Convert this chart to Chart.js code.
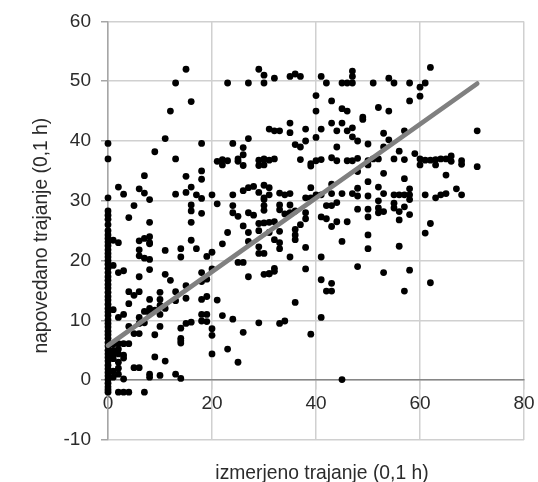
<!DOCTYPE html>
<html><head><meta charset="utf-8">
<style>html,body{margin:0;padding:0;background:#fff}#w{position:relative;width:538px;height:482px}</style>
<script src="https://cdn.jsdelivr.net/npm/chart.js@4"></script></head>
<body><div id="w"><canvas id="c" width="538" height="482"></canvas></div>
<script>
const xLabel = "izmerjeno trajanje (0,1 h)";
const yLabel = "napovedano trajanje (0,1 h)";
const xTicks = [0,20,40,60,80];
const yTicks = [-10,0,10,20,30,40,50,60];
const trendX = [0,71];
const trendY = [5.8,49.6];
const column0 = [39.6,37,30.5,28.3,27.6,26.9,26,25,24.3,23.7,23.1,22.5,21.8,21.2,20.6,20,19.4,18.7,18,17.3,16.7,16,15.4,14.7,14,13.4,12.7,12,11.4,10.8,10.1,9.5,8.9,8.2,7.6,7,6.3,5.7,5,4.4,3.8,3.2,2.5,1.9,1.3,0.7,0.1,-0.5,-1.1,-1.6,-2];
const pointsA = [
[1,23.4],[2,23],[1,19.2],[2,18],[3,18.3],[1,11.8],[3,11],[2,10.5],[1,6],[2,6.1],[3,6.1],[4,6.1],[1,5],[2,5.2],[1,4.3],[2,4.4],[3,4.2],[1,3.6],[3,3.7],[2,3],[2,2],[1,1.5],[1,0.5],[2,1],[3,0.2],[2,-2],[3,-2],[4,-2],[7,-2],
[4,27.2],[5,29.2],[8,30.2],[8,26.4],[16,29.3],[16,28.3],[16,26.4],[18,27.9],[21,29.5],[24,29.2],[24,28],[25,27.4],[27,28],[28,27.6],[26,25.8],[23,24.7],[27,24.7],[30,26.3],[31,26.4],[31,24.7],[27,23.2],[29,22.3],[22,22.8],[16,23.4],[6,23.3],[7,23.7],[8,24],[8,23],[8,22.8],[6,21.8],[6,20.8],[7,20.4],[8,20.2],[11,21.7],[14,22],[14,20.6],[17,22],[19,20.7],[20,21.4],[30,21.2],[25,19.7],[26,19.7],[8,18.5],[11,17.7],[6,17.3],[12,16.7],[18,18],[20,18.6],[19,16.9],[18,16.5],[27,17.3],[30,17.7],[31,17.8],[15,15.8],[13,14.8],[4,14.8],[6,14.8],[5,14.2],[10,14.7],[4,12.8],[8,13.5],[10,13.5],[10,12.5],[13,13.3],[15,13.7],[18,13.5],[19,14],[21,13.4],[6,10.5],[7,11.5],[8,12],[8,11.2],[9,11.7],[10,11],[11,12],[18,11],[19,11],[19,9.8],[18,9.9],[22,10.8],[24,10.2],[6,9.5],[7,9.6],[4,9],[10,9],[14,8.7],[15,9.5],[16,9.7],[29,9.6],[20,8.6],[20,7.5],[26,8],[5,7.8],[6,7.8],[9,7.6],[14,7],[14,6.6],[14,6.2],[23,5.2],[20,4.4],[9,3.9],[11,3.2],[25,3],[5,2.1],[6,2.1],[8,1],[8,0.5],[10,0.8],[13,1],[14,0.3],
[15,52],[13,49.7],[23,49.7],[27,49.7],[30,49.7],[29,52],[30,51],[16,46.6],[12,45],[11,40.4],[18,39.6],[24,39.6],[26,38.9],[27,40.4],[31,42],[9,38.2],[13,37],[26,37.7],[25,37],[25,36.6],[21,36.6],[22,36.9],[22,36],[23,36.7],[26,35.9],[29,36.8],[29,35.9],[30,37],[30,36],[31,36.8],[18,35],[7,34.2],[15,34.1],[18,33.6],[2,32.3],[3,31.1],[6,32],[7,31.3],[13,31.1],[15,31.4],[16,32.3],[17,31],[18,30.4],[20,31],[24,31],[26,31.7],[27,32.2],[28,32.4],[30,32.6],[31,32.2],[30,30.5],[30,30.2]
];
const pointsB = [
[32,50.5],[35,50.8],[36,51.2],[37,50.8],[41,50.8],[42,49.7],[45,49.7],[46,49.7],[47,49.7],[47,50.8],[47,51.7],[51,49.7],[54,50.5],[55,49.7],[58,49.7],[60,49],[61,49.7],[62,52.3],[60,47.5],[58,46.7],[40,47.6],[43,46.7],[45,45.4],[46,45],[40,45],[49,44],[49,43.6],[52,45.6],[54,45],[35,43],[38,42],[41,42],[43,43],[45,43],[44,41.7],[46,41.7],[47,42.2],[47,40.7],[48,40],[32,41.7],[33,41.7],[35,41.4],[40,40.6],[38,40],[36,39.4],[37,39],[44,39],[50,39.5],[53,41.3],[54,40.2],[53,39],[57,41.7],[56,38.3],[71,41.7],[71,35.7],
[32,37],[37,36.9],[39,36.2],[39,35.8],[40,36.7],[41,36.9],[43,37.2],[44,36.7],[46,36.7],[47,36.7],[48,37.1],[50,36.7],[50,36],[51,37],[52,37],[55,37],[57,36.9],[59,37.9],[60,37],[60,36],[61,36.8],[62,36.8],[63,36.9],[64,37],[65,37],[63,36],[66,37.5],[66,36.6],[68,36.7],[68,36.1],
[48,34.9],[53,34.6],[57,33.7],[65,34.3],[43,32.8],[39,32.2],[48,32.1],[50,33.2],[52,32.3],[58,32],[67,32],[29,31.4],[31,31],[33,31.3],[34,31],[35,31.2],[38,30.5],[39,30.5],[40,31],[41,31],[43,31.2],[45,31.2],[47,31.2],[48,30.8],[50,30.8],[53,31.2],[55,31],[56,31],[57,31],[58,31],[52,30],[58,30.2],[61,31],[63,30.5],[64,31],[65,31.2],[68,31],[55,29.6],[55,28.8],[57,29],[52,28.8],[44,29.7],[43,29.2],[30,29.2],[30,28.4],[33,28.5],[34,27.8],[35,28],[36,28.3],
[42,29.2],[33,29.3],[35,29.3],[38,28],[38,27],[41,27.3],[42,27],[48,28.6],[50,28.6],[50,27.3],[52,28],[53,28.2],[56,28.2],[58,27.7],[56,26.8],[44,26.5],[43,25.7],[46,26.5],[37,26],[62,26.2],[61,24.6],[29,26.2],[32,26.5],[29,25],[33,24.9],[36,25.2],[36,24.3],[36,23.5],[50,24.3],[45,23.2],[32,23.5],[33,23],[33,22],[38,22.2],[56,22.4],[50,22],[29,21.2],[35,20.6],[41,20.6],[48,19],[38,18.6],[32,18.7],[32,18.2],[31,17.8],[53,18],[58,18.4],[41,16.8],[43,16.2],[62,16.3],[42,14.9],[43,14.9],[57,14.9],[36,13],[41,10.5],[34,9.9],[33,9.5],[39,7.7],[45,0.1]
];
const scatter = column0.map(v=>({x:0,y:v})).concat(pointsA.concat(pointsB).map(p=>({x:p[0],y:p[1]})));
const font = {family:"'Liberation Sans', Arial, sans-serif", size:19};
const titleFont = {family:"'Liberation Sans', Arial, sans-serif", size:19.3};
const shiftTitles = {id:'shiftTitles',beforeDraw(c){const s=c.scales;s.xt.left=s.x.left+12;s.xt.right=s.x.right;s.yt.top=s.y.top+10;s.yt.bottom=s.y.bottom;}};
new Chart(document.getElementById('c'),{
 type:'scatter',
 plugins:[shiftTitles],
 data:{datasets:[
  {type:'line',order:0,clip:false,data:trendX.map((x,i)=>({x,y:trendY[i]})),borderColor:'#808080',borderWidth:4.7,borderCapStyle:'round',pointRadius:0,fill:false,tension:0},
  {order:1,clip:false,data:scatter,backgroundColor:'#000',borderColor:'#000',pointRadius:3.4,borderWidth:0,pointHoverRadius:3.4}
 ]},
 options:{responsive:false,animation:false,
  layout:{padding:{left:30,right:14,top:20,bottom:0}},
  plugins:{legend:{display:false},tooltip:{enabled:false}},
  scales:{
   x:{type:'linear',min:0,max:80,position:{y:0},
      afterBuildTicks:s=>{s.ticks=xTicks.map(v=>({value:v}))},
      grid:{color:'#d0d0d0',lineWidth:1.5,tickLength:9,tickColor:'#d0d0d0'},
      border:{color:'#868686',width:1.5},
      ticks:{color:'#2b2b2b',font,padding:3,maxRotation:0}},
   y:{type:'linear',min:-10,max:60,position:'left',weight:0,
      afterBuildTicks:s=>{s.ticks=yTicks.map(v=>({value:v}))},
      grid:{color:'#d0d0d0',lineWidth:1.5,tickLength:7,tickColor:'#a6a6a6'},
      border:{color:'#a6a6a6',width:1.5},
      ticks:{color:'#2b2b2b',font,padding:10},afterFit:s=>{s.width=50}},
   xt:{type:'linear',position:'bottom',display:true,grid:{display:false},border:{display:false},ticks:{display:false},
      title:{display:true,text:xLabel,color:'#2b2b2b',font:titleFont,padding:{top:0,bottom:-3}},afterFit:s=>{s.height=42}},
   yt:{type:'linear',position:'left',weight:1,display:true,grid:{display:false},border:{display:false},ticks:{display:false},
      title:{display:true,text:yLabel,color:'#2b2b2b',font:titleFont,padding:{top:0,bottom:0}},afterFit:s=>{s.width=28}}
  }
 }
});
</script></body></html>
